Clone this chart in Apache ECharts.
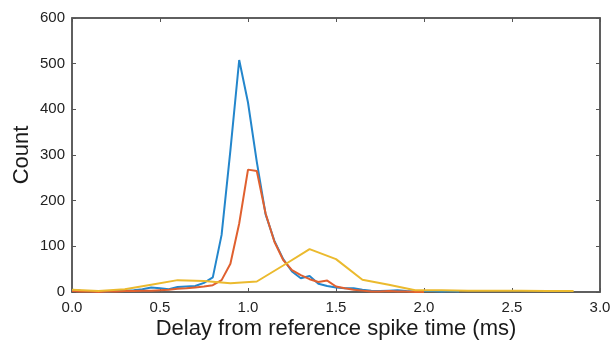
<!DOCTYPE html>
<html lang="en">
<head>
    <meta charset="UTF-8">
    <script src="https://cdn.jsdelivr.net/npm/echarts@6/dist/echarts.min.js"></script>
    <title>Delay histogram</title>
    <style type="text/css">
        html, body { margin: 0; padding: 0; background: #fff; }
        #chart { width: 611px; height: 344px; }
    </style>
</head>
<body>
<div id="chart"></div>
<script type="text/javascript">
    // bin centres (ms) and counts
    const blueX = [0.00, 0.05, 0.10, 0.15, 0.20, 0.25, 0.30, 0.35, 0.40, 0.45,
        0.50, 0.55, 0.60, 0.65, 0.70, 0.75, 0.80, 0.85, 0.90, 0.95,
        1.00, 1.05, 1.10, 1.15, 1.20, 1.25, 1.30, 1.35, 1.40, 1.45,
        1.50, 1.55, 1.60, 1.65, 1.70, 1.75, 1.80, 1.85, 1.90, 1.95,
        2.00, 2.05, 2.10, 2.15, 2.20];
    const blueY = [5, 3, 2, 1, 1, 2, 3, 4, 6, 10,
        8, 6, 11, 12, 13, 20, 32, 125, 310, 508,
        415, 285, 170, 112, 72, 45, 30, 35, 18, 13,
        10, 8, 8, 5, 3, 2, 3, 4, 2, 1,
        2, 2, 1, 2, 1];

    const redX = [0.00, 0.05, 0.10, 0.15, 0.20, 0.25, 0.30, 0.35, 0.40, 0.45,
        0.50, 0.55, 0.60, 0.65, 0.70, 0.75, 0.80, 0.85, 0.90, 0.95,
        1.00, 1.05, 1.10, 1.15, 1.20, 1.25, 1.30, 1.35, 1.40, 1.45,
        1.50, 1.55, 1.60, 1.65, 1.70, 1.75, 1.80, 1.85, 1.90, 1.95,
        2.00];
    const redY = [2, 1, 1, 0, 1, 1, 2, 2, 3, 3,
        4, 5, 7, 8, 10, 12, 15, 26, 62, 150,
        268, 265, 172, 110, 70, 48, 37, 28, 22, 25,
        12, 8, 5, 3, 1, 1, 2, 1, 1, 0,
        0];

    const yellowX = [0.00, 0.15, 0.30, 0.45, 0.60, 0.75, 0.90, 1.05, 1.20, 1.35,
        1.50, 1.65, 1.80, 1.95, 2.10, 2.25, 2.40, 2.55, 2.70, 2.85];
    const yellowY = [5, 2, 6, 16, 26, 24, 19, 23, 58, 94,
        72, 27, 16, 4, 4, 3, 3, 3, 2, 2];

    const xTicks = [0.0, 0.5, 1.0, 1.5, 2.0, 2.5, 3.0];
    const yTicks = [0, 100, 200, 300, 400, 500, 600];

    function pairs(xs, ys) {
        const out = [];
        for (let i = 0; i < xs.length; i++) {
            out.push([xs[i], ys[i]]);
        }
        return out;
    }

    const lineColor = '#555555';
    function axisLine() {
        return { show: true, onZero: false, lineStyle: { color: lineColor, width: 1.5 } };
    }
    function axisTick() {
        return { show: true, inside: true, length: 4, lineStyle: { color: lineColor, width: 1 } };
    }
    const font = 'Liberation Sans';
    const xMin = xTicks[0], xMax = xTicks[xTicks.length - 1];
    const yMin = yTicks[0], yMax = yTicks[yTicks.length - 1];

    const myChart = echarts.init(document.getElementById('chart'));
    const option = {
        animation: false,
        grid: {
            left: 72, right: 11, top: 18, bottom: 52,
            containLabel: false, outerBoundsMode: 'none',
            show: true, borderWidth: 1.5, borderColor: lineColor, backgroundColor: 'rgba(0,0,0,0)'
        },
        xAxis: [{
            type: 'value',
            position: 'bottom',
            min: xMin, max: xMax, interval: 0.5,
            name: 'Delay from reference spike time (ms)',
            nameLocation: 'middle',
            nameGap: 26,
            nameMoveOverlap: false,
            nameTextStyle: { fontFamily: font, fontSize: 22, color: '#1a1a1a' },
            axisLine: axisLine(),
            axisTick: axisTick(),
            splitLine: { show: false },
            axisLabel: {
                fontFamily: font, fontSize: 15, color: '#222', margin: 8,
                formatter: function (v) { return v.toFixed(1); }
            }
        }, {
            type: 'value',
            position: 'top',
            min: xMin, max: xMax, interval: 0.5,
            axisLine: axisLine(),
            axisTick: axisTick(),
            splitLine: { show: false },
            axisLabel: { show: false }
        }],
        yAxis: [{
            type: 'value',
            position: 'left',
            min: yMin, max: yMax, interval: 100,
            name: 'Count',
            nameLocation: 'middle',
            nameGap: 39,
            nameMoveOverlap: false,
            nameTextStyle: { fontFamily: font, fontSize: 22, color: '#1a1a1a' },
            axisLine: axisLine(),
            axisTick: axisTick(),
            splitLine: { show: false },
            axisLabel: { fontFamily: font, fontSize: 15, color: '#222', margin: 7 }
        }, {
            type: 'value',
            position: 'right',
            min: yMin, max: yMax, interval: 100,
            axisLine: axisLine(),
            axisTick: axisTick(),
            splitLine: { show: false },
            axisLabel: { show: false }
        }],
        series: [{
            type: 'line',
            data: pairs(blueX, blueY),
            showSymbol: false,
            lineStyle: { color: '#2386cc', width: 2 },
            itemStyle: { color: '#2386cc' }
        }, {
            type: 'line',
            data: pairs(redX, redY),
            showSymbol: false,
            lineStyle: { color: '#e0602f', width: 2 },
            itemStyle: { color: '#e0602f' }
        }, {
            type: 'line',
            xAxisIndex: 1,
            yAxisIndex: 1,
            data: pairs(yellowX, yellowY),
            showSymbol: false,
            lineStyle: { color: '#ebba2e', width: 2 },
            itemStyle: { color: '#ebba2e' }
        }]
    };
    myChart.setOption(option);
</script>
</body>
</html>
